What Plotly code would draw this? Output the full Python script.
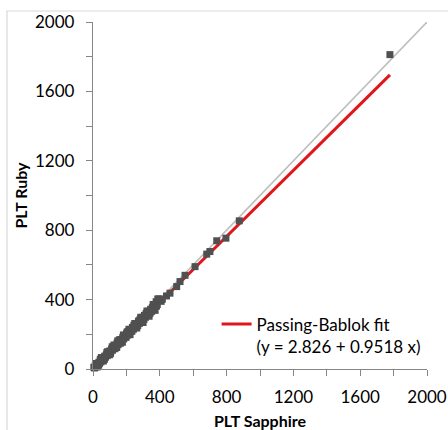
import plotly.graph_objects as go

# ---- data ----
plt_sapphire = [5, 9, 13, 16, 20, 24, 27, 31, 35, 39, 43, 47, 52, 56, 61, 66, 70, 75, 80, 85,
                90, 95, 100, 106, 111, 117, 122, 128, 133, 139, 144, 150, 156, 161, 167, 172,
                178, 184, 190, 195, 201, 207, 212, 218, 224, 230, 236, 242, 248, 254, 260, 266,
                272, 278, 284, 290, 296, 302, 308, 314, 320, 326, 332, 338, 345, 351, 358, 364,
                371, 378, 385, 392, 400, 408, 415,
                18, 34, 50, 68, 83, 98, 115, 131, 148, 163, 182, 198, 215, 233, 250, 268,
                286, 305, 323, 342, 360, 380, 396,
                26, 44, 62, 88, 104, 125, 142, 158, 176, 205, 222, 245, 262, 280, 300, 318,
                336, 355, 372, 388,
                440, 461, 501, 521, 551, 611, 681, 700, 741, 796, 876, 1778]
plt_ruby = [10, 6, 18, 12, 24, 19, 30, 26, 38, 33, 47, 41, 55, 50, 62, 58, 74, 68, 82, 77,
            93, 86, 104, 97, 115, 108, 126, 118, 137, 130, 149, 140, 160, 152, 170, 161,
            181, 173, 194, 183, 206, 195, 216, 206, 228, 218, 240, 229, 252, 241, 262, 253,
            276, 263, 288, 275, 298, 287, 309, 298, 321, 310, 333, 321, 344, 332, 356, 350,
            368, 388, 372, 395, 398, 390, 402,
            32, 22, 66, 56, 95, 82, 128, 117, 162, 148, 196, 183, 229, 218, 262, 250,
            298, 286, 334, 322, 372, 362, 404,
            12, 56, 46, 100, 88, 138, 124, 168, 154, 214, 198, 252, 236, 282, 268, 318,
            304, 352, 338, 404,
            421, 437, 475, 504, 540, 590, 662, 677, 739, 754, 854, 1812]

fit_intercept = 2.826
fit_slope = 0.9518
identity_range = [0, 2000]
x_tick_vals = [0, 400, 800, 1200, 1600, 2000]
y_tick_vals = [0, 400, 800, 1200, 1600, 2000]

fit_x = [min(plt_sapphire), max(plt_sapphire)]
fit_y = [fit_intercept + fit_slope * v for v in fit_x]

FONT = "Lato"

fig = go.Figure()
fig.add_trace(go.Scatter(x=identity_range, y=identity_range, mode="lines",
                         line=dict(color="#BFBFBF", width=1.6), showlegend=False,
                         hoverinfo="skip"))
fig.add_trace(go.Scatter(x=fit_x, y=fit_y, mode="lines",
                         line=dict(color="#E0161B", width=3),
                         name="Passing-Bablok fit<br>(y = 2.826 + 0.9518 x)",
                         showlegend=True))
fig.add_trace(go.Scatter(x=plt_sapphire, y=plt_ruby, mode="markers",
                         marker=dict(symbol="square", size=7, color="#505050"),
                         showlegend=False, cliponaxis=False))

axis_common = dict(
    range=[0, 2000], showgrid=False, zeroline=False,
    showline=True, linecolor="#868686", linewidth=1.3,
    ticks="outside", ticklen=6, tickwidth=1.3, tickcolor="#868686",
    minor=dict(ticks="outside", ticklen=6, tickwidth=1.3, tickcolor="#868686", dtick=200),
    tickfont=dict(family=FONT, size=17, color="#000000"),
    automargin=False,
)

fig.update_xaxes(**axis_common, tickvals=x_tick_vals, ticklabelstandoff=6,
                 title=dict(text="<b>PLT Sapphire</b>", font=dict(family=FONT, size=16, color="#000"),
                            standoff=11))
fig.update_yaxes(**axis_common, tickvals=y_tick_vals, ticklabelstandoff=8,
                 title=dict(text="<b>PLT Ruby</b>", font=dict(family=FONT, size=16, color="#000"),
                            standoff=3))

fig.update_layout(
    width=448, height=430,
    margin=dict(l=93, r=21, t=22, b=61),
    paper_bgcolor="white", plot_bgcolor="white",
    font=dict(family=FONT, size=17, color="#000"),
    legend=dict(x=0.37, y=0.18, xanchor="left", yanchor="top",
                bgcolor="rgba(0,0,0,0)", borderwidth=0, valign="top",
                font=dict(family=FONT, size=17, color="#000"), itemwidth=30),
    shapes=[dict(type="rect", xref="paper", yref="paper",
                 x0=(7 - 93) / 334, x1=(460 - 93) / 334,
                 y0=(369 - 445) / 347, y1=(369 - 11) / 347,
                 line=dict(color="#D9D9D9", width=1.2), fillcolor="rgba(0,0,0,0)", layer="below")],
)

fig.write_html("out.html", config={"displayModeBar": False},
               post_script="document.body.style.margin='0';document.body.style.padding='0';")
